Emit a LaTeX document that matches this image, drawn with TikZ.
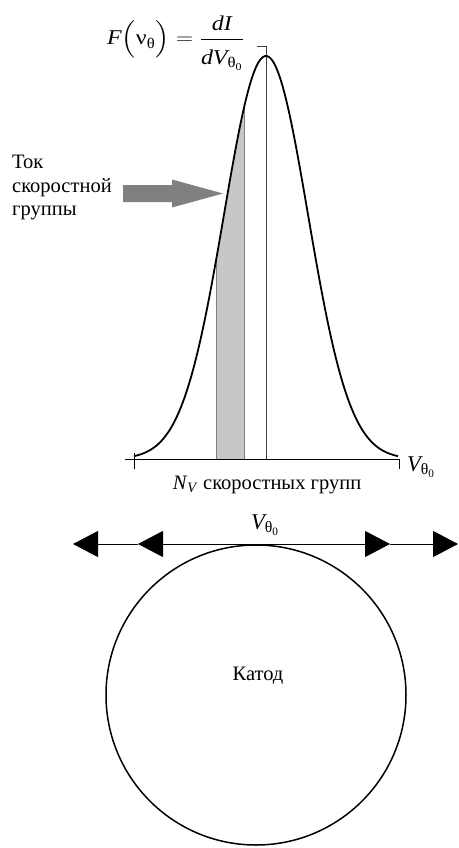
\documentclass[tikz,border=0pt]{standalone}
\usepackage{amsmath}
\usepackage{fontspec}
\setmainfont{Liberation Serif}
\usetikzlibrary{arrows.meta}
\begin{document}
\begin{tikzpicture}[x=1pt,y=-1pt,
  lbl/.style={font=\fontsize{20.5}{23.5}\selectfont, inner sep=0pt},
  bigl/.style={font=\fontsize{22.5}{25}\selectfont, inner sep=0pt},
  fml/.style={font=\fontsize{21}{25}\selectfont, inner sep=0pt},
  curve/.style={line width=1.8pt, line join=round},
  axis/.style={line width=0.9pt},
  midline/.style={line width=1pt, draw=black!75},
  bandfill/.style={fill=black!22},
  bandedge/.style={line width=0.9pt, draw=black!50},
  tipline/.style={line width=1pt, -{Triangle[length=25pt,width=26pt]}},
  cathode/.style={circle, draw, line width=1.5pt, minimum size=300pt, inner sep=0pt}
]
\useasboundingbox (0,0) rectangle (458,848);

% formula
\node[fml, anchor=base west] (formula) at (107,45)
  {\scalebox{1.14}[1]{$\text{\itshape F}\Bigl(\text{ν}_{\text{θ}}\Bigr) = \dfrac{\text{\itshape dI}\rule[-3pt]{0pt}{0pt}}{\rule{0pt}{22pt}\text{\itshape dV}_{\text{θ}_{\text{0}}}}$}};

% gray band
\fill[bandfill] (216,459) -- plot[domain=216:244,samples=20] (\x,{459-403*exp(-0.5*((\x-266)/42)*((\x-266)/42))}) -- (244,459) -- cycle;
\draw[bandedge] (216,459) -- (216,{459-403*exp(-0.5*(50/42)*(50/42))});
\draw[bandedge] (244,459) -- (244,{459-403*exp(-0.5*(22/42)*(22/42))});

% central vertical line
\coordinate (mtop) at (266,47);
\coordinate (mbot) at (266,459);
\draw[midline] (mbot) -- (mtop) -- (257,47);

% axis
\coordinate (axl) at (125,459);
\coordinate (axr) at (399,459);
\draw[axis] (axl) -- (axr);
\draw[axis] (134,453) -- (134,469);
\draw[axis] (399,459) -- (399,469);

% curve
\draw[curve] plot[domain=134:398,samples=120] (\x,{459-403*exp(-0.5*((\x-266)/42)*((\x-266)/42))});

% gray arrow and label
\node[lbl, align=left, anchor=north west] (tok) at (12,155) {Ток\\скоростной\\группы};
\fill[black!50] (123,185) -- (172,185) -- (172,179.5) -- (223,193.5) -- (172,207.5) -- (172,202) -- (123,202) -- cycle;

% axis labels
\node[bigl, anchor=west] (vax) at (407,467) {$\text{\itshape V}_{\text{θ}_{\text{0}}}$};
\node[lbl] (nv) at (267,485) {\textit{N}\textsubscript{\textit{V}} скоростных групп};

% cathode
\node[cathode] (cat) at (256,695) {};
\node[lbl] (katod) at (258,676) {Катод};
\node[bigl] (vtop) at (265,525) {$\text{\itshape V}_{\text{θ}_{\text{0}}}$};

\coordinate (C) at (265,544);
\coordinate (L2) at (138,544);
\coordinate (L1) at (73,544);
\coordinate (R1) at (390,544);
\coordinate (R2) at (458,544);
\draw[tipline] (C) -- (L2);
\draw[tipline] (L2) -- (L1);
\draw[tipline] (C) -- (R1);
\draw[tipline] (R1) -- (R2);
\end{tikzpicture}
\end{document}
